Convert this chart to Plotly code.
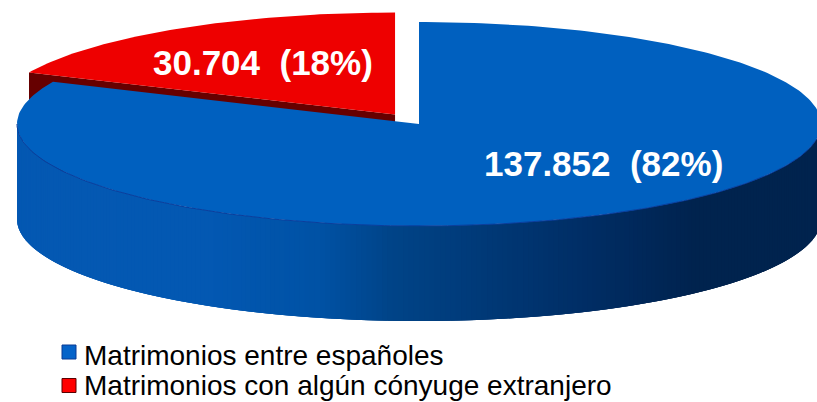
import numpy as np
import plotly.graph_objects as go

categories = ["Matrimonios entre españoles", "Matrimonios con algún cónyuge extranjero"]
values = [137852, 30704]
labels = ["137.852  (82%)", "30.704  (18%)"]

W, H = 817, 402
CX, CY, RX, RY = 419, 124, 402, 102
DEPTH = 95
EXPLODE = 0.11
BLUE, RED = "#0060BF", "#EE0000"
DARK_RED = "#660000"
EDGE_BLUE = "#0A3E9C"
# shade of the blue wall by horizontal position (fraction of width, colour)
WALL_STOPS = [(0.0, (5, 88, 178)), (0.25, (3, 88, 178)), (0.38, (0, 82, 165)),
              (0.47, (0, 68, 136)), (0.72, (0, 45, 100)), (0.85, (0, 35, 78)), (1.0, (0, 35, 78))]

total = sum(values)
sweep = [v / total * 2 * np.pi for v in values]


def pt(theta, cx=CX, cy=CY, r=1.0):
    return cx + r * RX * np.sin(theta), cy - r * RY * np.cos(theta)


def wall_colour(f):
    xs = [s[0] for s in WALL_STOPS]
    c = [np.interp(f, xs, [s[1][i] for s in WALL_STOPS]) for i in range(3)]
    return "rgb(%d,%d,%d)" % tuple(c)


fig = go.Figure()


def poly(x, y, fill):
    fig.add_trace(go.Scatter(
        x=list(x), y=list(y), mode="lines", fill="toself", fillcolor=fill,
        line=dict(color=fill, width=0), hoverinfo="skip", showlegend=False))


# exploded red slice: wedge from end of the blue slice to 12 o'clock
a0, a1 = sweep[0], 2 * np.pi
mid = (a0 + a1) / 2
rcx, rcy = pt(mid, r=EXPLODE)
rth = np.linspace(a0, a1, 80)
rx, ry = pt(rth, rcx, rcy)
tipx, tipy = rx[0], ry[0]
poly([rcx, tipx, tipx, rcx], [rcy, tipy, tipy + DEPTH, rcy + DEPTH], DARK_RED)
poly(np.r_[rcx, rx, rcx], np.r_[rcy, ry, rcy], RED)

# blue outer wall: overlapping strips painted right to left so no seams show
edges = np.linspace(np.pi / 2, 3 * np.pi / 2, 241)
for i in range(len(edges) - 1):
    th = np.linspace(edges[i], edges[min(i + 3, len(edges) - 1)], 5)
    x, y = pt(th)
    f = (pt(edges[i])[0] - (CX - RX)) / (2 * RX)
    poly(np.r_[x, x[::-1]], np.r_[y, y[::-1] + DEPTH], wall_colour(f))

# blue top
bth = np.linspace(0, sweep[0], 300)
bx, by = pt(bth)
poly(np.r_[CX, bx, CX], np.r_[CY, by, CY], BLUE)
fx, fy = pt(np.linspace(np.pi / 2, 3 * np.pi / 2, 200))
fig.add_trace(go.Scatter(x=fx, y=fy, mode="lines", line=dict(color=EDGE_BLUE, width=1),
                         hoverinfo="skip", showlegend=False))

# legend: swatches and their texts, one row each
LEG_X, LEG_TX, LEG_Y = 69, 84, [352, 385.5]
fig.add_trace(go.Scatter(
    x=[LEG_X, LEG_X], y=LEG_Y, mode="markers", hoverinfo="skip", showlegend=False,
    marker=dict(symbol="square", size=14, color=["#0563C9", "#FF0000"],
                line=dict(color=["#0A3A94", "#5A0000"], width=1))))
for name, yy in zip(categories, [355, 385.8]):
    fig.add_annotation(x=LEG_TX, y=yy, text=name, showarrow=False, xanchor="left",
                       borderpad=0, borderwidth=0,
                       font=dict(family="Liberation Sans", size=28, color="black"))

fig.add_annotation(x=603.5, y=163, text=labels[0], showarrow=False,
                   font=dict(family="Liberation Sans", size=35, color="white", weight="bold"))
fig.add_annotation(x=262.5, y=62, text=labels[1], showarrow=False,
                   font=dict(family="Liberation Sans", size=35, color="white", weight="bold"))

fig.update_layout(
    width=W, height=H, margin=dict(l=0, r=0, t=0, b=0, autoexpand=False),
    paper_bgcolor="white", plot_bgcolor="white", showlegend=False,
    xaxis=dict(range=[0, W], visible=False, fixedrange=True),
    yaxis=dict(range=[H, 0], visible=False, fixedrange=True),
)
fig.write_html("out.html", config={"displayModeBar": False},
               post_script="document.body.style.margin='0';document.body.style.overflow='hidden';")
